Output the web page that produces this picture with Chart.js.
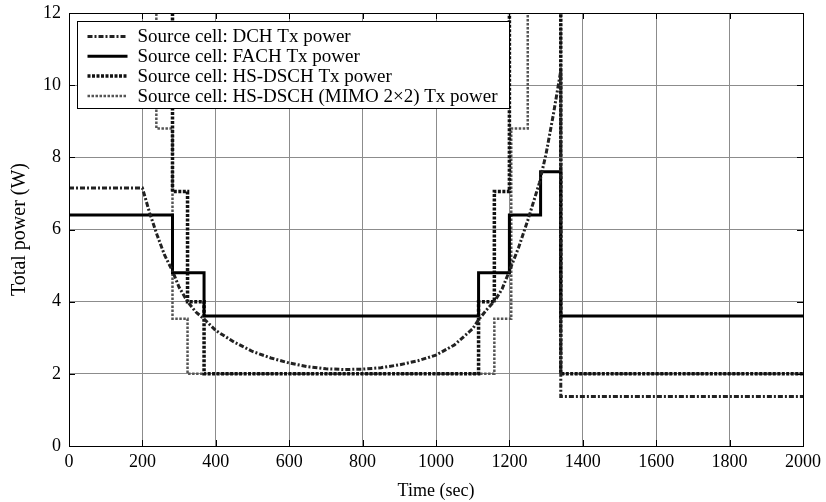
<!DOCTYPE html>
<html>
<head>
<meta charset="utf-8">
<script src="https://cdn.jsdelivr.net/npm/chart.js@4.4.0/dist/chart.umd.min.js"></script>
<style>
  html, body { margin: 0; padding: 0; background: #fff; }
  #wrap { width: 826px; height: 502px; }
</style>
</head>
<body>
<div id="wrap"><canvas id="powerChart" width="826" height="502"></canvas></div>
<script>
// Data (time in sec, power in W)
const dchTime = [0, 200, 220, 240, 260, 282, 300, 323, 345, 368, 400, 450, 500, 550, 600, 650, 700, 750, 800, 850, 900, 950, 1000, 1050, 1100, 1116, 1140, 1160, 1180, 1200, 1225, 1250, 1282, 1300, 1320, 1340, 1340, 2000];
const dchPower = [7.15, 7.15, 6.45, 5.85, 5.3, 4.85, 4.4, 4.0, 3.72, 3.52, 3.2, 2.88, 2.62, 2.44, 2.3, 2.2, 2.14, 2.12, 2.13, 2.17, 2.25, 2.36, 2.52, 2.8, 3.25, 3.5, 3.8, 4.02, 4.35, 4.85, 5.5, 6.25, 7.3, 8.1, 9.2, 10.4, 1.37, 1.37];

const fachTime = [0, 282, 368, 1116, 1200, 1285, 1340, 2000];
const fachPower = [6.4, 4.8, 3.6, 4.8, 6.4, 7.6, 3.6, 3.6];

// 13 = above the top of the axis (off scale)
const hsTime = [0, 282, 323, 368, 1116, 1159, 1200, 1340, 2000];
const hsPower = [13, 7.05, 4.0, 2.0, 4.0, 7.05, 13, 2.0, 2.0];

const mimoTime = [0, 238, 282, 323, 1159, 1205, 1250, 1340, 2000];
const mimoPower = [13, 8.8, 3.53, 2.0, 3.53, 8.8, 13, 2.0, 2.0];

const xTicks = [0, 200, 400, 600, 800, 1000, 1200, 1400, 1600, 1800, 2000];
const yTicks = [0, 2, 4, 6, 8, 10, 12];

const serif = "'Liberation Serif', 'Times New Roman', serif";

function toPoints(xs, ys) {
  return xs.map((x, i) => ({ x: x, y: ys[i] }));
}

// Frame, inner tick marks and the boxed legend inside the plot
const frameAndLegend = {
  id: "frameAndLegend",
  afterDatasetsDraw(chart) {
    const ctx = chart.ctx;
    const a = chart.chartArea;
    const sx = chart.scales.x;
    const sy = chart.scales.y;
    ctx.save();
    ctx.strokeStyle = "#000";
    ctx.lineWidth = 1;
    ctx.setLineDash([]);

    // inward ticks
    ctx.beginPath();
    xTicks.forEach((v) => {
      const px = Math.round(sx.getPixelForValue(v)) + 0.5;
      ctx.moveTo(px, a.bottom);
      ctx.lineTo(px, a.bottom - 6);
      ctx.moveTo(px, a.top);
      ctx.lineTo(px, a.top + 6);
    });
    yTicks.forEach((v) => {
      const py = Math.round(sy.getPixelForValue(v)) + 0.5;
      ctx.moveTo(a.left, py);
      ctx.lineTo(a.left + 6, py);
      ctx.moveTo(a.right, py);
      ctx.lineTo(a.right - 6, py);
    });
    ctx.stroke();

    // frame
    ctx.strokeRect(Math.round(a.left) + 0.5, Math.round(a.top) + 0.5,
      Math.round(a.right - a.left), Math.round(a.bottom - a.top));

    // legend
    ctx.font = "19px " + serif;
    const sets = chart.data.datasets;
    let maxW = 0;
    sets.forEach((ds) => { maxW = Math.max(maxW, ctx.measureText(ds.label).width); });
    const bx = Math.round(a.left + 8) + 0.5;
    const by = Math.round(a.top + 8) + 0.5;
    const bw = Math.round(60 + maxW + 12);
    const bh = 87;
    ctx.fillStyle = "#fff";
    ctx.fillRect(bx, by, bw, bh);
    ctx.strokeStyle = "#000";
    ctx.lineWidth = 1;
    ctx.strokeRect(bx, by, bw, bh);

    sets.forEach((ds, i) => {
      const ly = by + 15 + i * 19.8;
      ctx.save();
      ctx.strokeStyle = ds.borderColor;
      ctx.lineWidth = ds.borderWidth;
      ctx.setLineDash(ds.borderDash || []);
      ctx.beginPath();
      ctx.moveTo(bx + 10, ly);
      ctx.lineTo(bx + 50, ly);
      ctx.stroke();
      ctx.restore();
      ctx.fillStyle = "#000";
      ctx.textBaseline = "middle";
      ctx.textAlign = "left";
      ctx.fillText(ds.label, bx + 60, ly + 1);
    });
    ctx.restore();
  },
};

const ctx = document.getElementById("powerChart").getContext("2d");
new Chart(ctx, {
  type: "line",
  data: {
    datasets: [
      {
        label: "Source cell: DCH Tx power",
        data: toPoints(dchTime, dchPower),
        borderColor: "#222",
        borderWidth: 3,
        borderDash: [5, 2, 2, 2],
        pointRadius: 0,
        tension: 0,
      },
      {
        label: "Source cell: FACH Tx power",
        data: toPoints(fachTime, fachPower),
        borderColor: "#000",
        borderWidth: 3,
        stepped: "before",
        pointRadius: 0,
      },
      {
        label: "Source cell: HS-DSCH Tx power",
        data: toPoints(hsTime, hsPower),
        borderColor: "#111",
        borderWidth: 3.5,
        borderDash: [3, 1.5],
        stepped: "before",
        pointRadius: 0,
      },
      {
        label: "Source cell: HS-DSCH (MIMO 2\u00d72) Tx power",
        data: toPoints(mimoTime, mimoPower),
        borderColor: "#555",
        borderWidth: 2.5,
        borderDash: [2.5, 1.5],
        stepped: "before",
        pointRadius: 0,
      },
    ],
  },
  options: {
    responsive: false,
    animation: false,
    devicePixelRatio: 1,
    layout: { padding: { left: 0, right: 22, top: 13, bottom: 0 } },
    plugins: {
      legend: { display: false },
      tooltip: { enabled: false },
    },
    scales: {
      x: {
        type: "linear",
        min: 0,
        max: 2000,
        afterBuildTicks: (scale) => { scale.ticks = xTicks.map((v) => ({ value: v })); },
        afterFit: (scale) => { scale.height = 56; },
        ticks: {
          color: "#000",
          font: { family: serif, size: 18 },
          padding: 5,
          maxRotation: 0,
          callback: (value) => String(value),
        },
        grid: { color: "#8c8c8c", lineWidth: 1, drawTicks: false },
        border: { display: false },
        title: {
          display: true,
          text: "Time (sec)",
          color: "#000",
          font: { family: serif, size: 18 },
          padding: { top: 0, bottom: 0 },
        },
      },
      y: {
        min: 0,
        max: 12,
        afterBuildTicks: (scale) => { scale.ticks = yTicks.map((v) => ({ value: v })); },
        afterFit: (scale) => {
          scale.width = 69;
          scale.paddingTop = 0;
          scale.paddingBottom = 0;
        },
        ticks: { color: "#000", font: { family: serif, size: 18 }, padding: 8 },
        grid: { color: "#8c8c8c", lineWidth: 1, drawTicks: false },
        border: { display: false },
        title: {
          display: true,
          text: "Total power (W)",
          color: "#000",
          font: { family: serif, size: 20 },
          padding: { top: 8, bottom: 0 },
        },
      },
    },
  },
  plugins: [frameAndLegend],
});
</script>
</body>
</html>
